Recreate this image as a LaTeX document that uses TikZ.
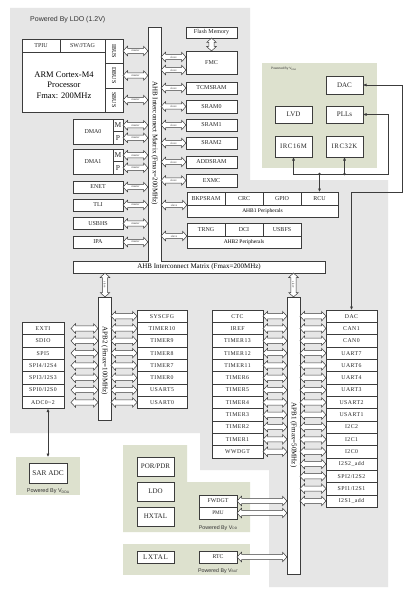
\documentclass[tikz,border=0pt]{standalone}
\usepackage{fontspec}
\setmainfont{Liberation Serif}
\newfontfamily\sansf{Liberation Sans}
\newfontfamily\lsf[LetterSpace=8]{Liberation Serif}
\usetikzlibrary{arrows.meta,calc}
\definecolor{bggray}{HTML}{E6E6E6}
\definecolor{bggreen}{HTML}{DDE1CE}
\definecolor{edge}{HTML}{3C3C3C}
\newcounter{arrn}
\newcommand{\fs}[1]{\fontsize{#1}{#1}\selectfont}
\newcommand{\vsub}[2]{\raisebox{-0.2ex}{\fontsize{#1}{#1}\selectfont #2}}
\tikzset{
 box/.style={draw=edge, fill=white, line width=0.6pt, inner sep=0pt, outer sep=0pt, font=\fs{6}, align=center, text=black!85},
 barr/.style={draw=edge, fill=white, line width=0.5pt, line join=miter},
 alab/.style={inner sep=0pt, font=\fs{3}, text=edge},
 conn/.style={draw=edge, line width=0.7pt, >={Latex[length=3.5pt,width=3.2pt]}},
 power/.style={inner sep=0pt, text=black!80},
 busbar/.style={draw=edge, fill=white, line width=0.6pt},
 apblab/.style={font=\lsf\fs{5.8}},
}
% [opts]{name}{x1}{y1}{x2}{y2}{text}
\newcommand{\rbox}[7][]{%
 \pgfmathsetmacro\bw{#5-#3}\pgfmathsetmacro\bh{#6-#4}%
 \node[box,minimum width=\bw pt,minimum height=\bh pt,anchor=north west,#1] (#2) at (#3,#4) {#7};}
% horizontal double block arrow {x1}{x2}{y}{label}
\newcommand{\harr}[4]{%
 \stepcounter{arrn}%
 \pgfmathsetmacro\hl{#2-#1-9}%
 \draw[barr] (#1,#3) -- ++(4.5,-4.8) -- ++(0,2.2) -- ++(\hl,0) -- ++(0,-2.2) -- (#2,#3) -- ++(-4.5,4.8) -- ++(0,-2.2) -- ++(-\hl,0) -- ++(0,2.2) -- cycle;
 \node[alab] (lab\thearrn) at ({(#1+#2)/2},#3) {#4};}
% vertical double block arrow {x}{y1}{y2}{label}
\newcommand{\varr}[4]{%
 \stepcounter{arrn}%
 \pgfmathsetmacro\vl{#3-#2-9}%
 \draw[barr] (#1,#2) -- ++(4.8,4.5) -- ++(-2.2,0) -- ++(0,\vl) -- ++(2.2,0) -- (#1,#3) -- ++(-4.8,-4.5) -- ++(2.2,0) -- ++(0,-\vl) -- ++(-2.2,0) -- cycle;
 \node[alab,rotate=-90] (lab\thearrn) at (#1,{(#2+#3)/2}) {#4};}

\begin{document}
\begin{tikzpicture}[x=1pt,y=-1pt]
\fill[white] (0,0) rectangle (415,599);
\useasboundingbox (0,0) rectangle (415,599);
% ---------- backgrounds
\fill[bggray] (10,8) -- (250,8) -- (250,180) -- (388,180) -- (388,587) -- (269,587) -- (269,470) -- (200,470) -- (200,433) -- (10,433) -- cycle;
\fill[bggreen] (262,63) rectangle (377,168);
\fill[bggreen] (123,445) -- (187,445) -- (187,482) -- (250,482) -- (250,532) -- (123,532) -- cycle;
\fill[bggreen] (123,544) rectangle (250,575);
\rbox[fill=bggreen,draw=none]{sarg}{16}{457}{80}{495}{}

\node[power,font=\sansf\fs{7},anchor=west] (pwrldo) at (30,20) {Powered By LDO (1.2V)};
\node[power,font=\sansf\fs{3.2},anchor=west] (pwrtr) at (271,69) {Powered By V\vsub{2.2}{DDA}};
\node[power,font=\sansf\fs{5.5}] (pwrsar) at (48,491) {Powered By V\vsub{3.5}{DDA}};
\node[power,font=\sansf\fs{5.3}] (pwrvdd) at (218,528) {Powered By V\vsub{3.3}{DD}};
\node[power,font=\sansf\fs{5.3}] (pwrvbat) at (218,571) {Powered By V\vsub{3.3}{BAT}};

% ---------- AHB interconnect bus
\draw[busbar] (148,27) -- (161,27) -- (161,261) -- (325,261) -- (325,273) -- (73,273) -- (73,261) -- (148,261) -- cycle;
\node[rotate=-90,font=\fs{7}] (ahbv) at (154.5,143) {AHB Interconnect Matrix (Fmax=200MHz)};
\node[font=\fs{7}] (ahbh) at (199,267) {AHB Interconnect Matrix (Fmax=200MHz)};

% ---------- CPU
\rbox{tpiu}{22}{39}{60}{52}{TPIU}
\rbox{swj}{60}{39}{105}{52}{SW/JTAG}
\rbox{core}{22}{52}{105}{112}{}
\node[font=\fontsize{8.5}{10.5}\selectfont,align=center] (coretxt) at (64,85) {ARM Cortex-M4\\Processor\\Fmax: 200MHz};
\rbox{ibus}{105}{39}{123}{63}{}
\rbox{dbus}{105}{63}{123}{88}{}
\rbox{sbus}{105}{88}{123}{112}{}
\node[rotate=-90,font=\fs{6}] (ibustxt) at (ibus.center) {IBUS};
\node[rotate=-90,font=\fs{6}] (dbustxt) at (dbus.center) {DBUS};
\node[rotate=-90,font=\fs{6}] (sbustxt) at (sbus.center) {SBUS};
\harr{123}{148}{51}{master}
\harr{123}{148}{75.5}{master}
\harr{123}{148}{100}{master}

% ---------- other masters
\rbox{dmaz}{73}{119}{113}{144}{DMA0}
\rbox[font=\fs{7.5}]{dmazm}{113}{119}{123}{131.5}{M}
\rbox[font=\fs{7.5}]{dmazp}{113}{131.5}{123}{144}{P}
\rbox{dmao}{73}{149}{113}{174}{DMA1}
\rbox[font=\fs{7.5}]{dmaom}{113}{149}{123}{161.5}{M}
\rbox[font=\fs{7.5}]{dmaop}{113}{161.5}{123}{174}{P}
\rbox{enet}{73}{181}{123}{193}{ENET}
\rbox{tli}{73}{199}{123}{211}{TLI}
\rbox{usbhs}{73}{217.5}{123}{229.5}{USBHS}
\rbox{ipa}{73}{236}{123}{248}{IPA}
\harr{123}{148}{125.25}{master}
\harr{123}{148}{137.75}{master}
\harr{123}{148}{155.25}{master}
\harr{123}{148}{167.75}{master}
\harr{123}{148}{187}{master}
\harr{123}{148}{205}{master}
\harr{123}{148}{223.5}{master}
\harr{123}{148}{242}{master}

% ---------- slaves
\rbox{flash}{186}{27}{237}{38}{Flash Memory}
\rbox{fmc}{186}{51}{237}{74}{FMC}
\varr{211.5}{38}{51}{}
\rbox{tcm}{186}{82}{237}{94}{TCMSRAM}
\rbox{sramz}{186}{100}{237}{113}{SRAM0}
\rbox{sramo}{186}{119}{237}{131}{SRAM1}
\rbox{sramt}{186}{137}{237}{149}{SRAM2}
\rbox{addsram}{186}{156}{237}{168}{ADDSRAM}
\rbox{exmc}{186}{174}{237}{187}{EXMC}
\harr{161}{186}{57}{slave}
\harr{161}{186}{70}{slave}
\harr{161}{186}{88}{slave}
\harr{161}{186}{106.5}{slave}
\harr{161}{186}{125}{slave}
\harr{161}{186}{143}{slave}
\harr{161}{186}{162}{slave}
\harr{161}{186}{180.5}{slave}

\rbox{ahbone}{187}{192}{338}{217}{}
\rbox{bkpsram}{187}{192}{225}{205}{BKPSRAM}
\rbox{crc}{225}{192}{263}{205}{CRC}
\rbox{gpio}{263}{192}{301}{205}{GPIO}
\rbox{rcu}{301}{192}{338}{205}{RCU}
\node[font=\fs{5.5}] (ahbonelab) at (262.5,211.2) {AHB1 Peripherals};
\harr{161}{187}{205}{slave}

\rbox{ahbtwo}{187}{223}{301}{248}{}
\rbox{trng}{187}{223}{225}{236}{TRNG}
\rbox{dci}{225}{223}{263}{236}{DCI}
\rbox{usbfs}{263}{223}{301}{236}{USBFS}
\node[font=\fs{5.5}] (ahbtwolab) at (244,242.2) {AHB2 Peripherals};
\harr{161}{187}{236}{slave}

% ---------- power domain VDDA (top right)
\rbox[font=\fs{7}]{dacg}{326}{76}{363}{94}{DAC}
\rbox[font=\fs{7}]{lvd}{275}{106}{312}{123}{LVD}
\rbox[font=\fs{7}]{plls}{326}{106}{363}{123}{PLLs}
\rbox[font=\lsf\fs{6.8}]{irc16}{275}{136}{312}{157}{IRC16M}
\rbox[font=\lsf\fs{6.8}]{irc32}{326}{136}{363}{157}{IRC32K}

% ---------- APB2
\varr{105}{273}{297}{slave}
\rbox{apbtwo}{98}{297}{111}{420}{}
\node[rotate=-90,font=\fs{7}] (apbtwotxt) at (104.5,361) {APB2 (Fmax=100MHz)};
\foreach \t [count=\i from 0] in {SYSCFG,TIMER10,TIMER9,TIMER8,TIMER7,TIMER0,USART5,USART0}{
  \pgfmathsetmacro\ya{310+12.32*\i}\pgfmathsetmacro\yb{\ya+12.32}
  \rbox[apblab]{apbtwoR\i}{137}{\ya}{187}{\yb}{\t}
  \harr{111}{137}{\ya+6.16}{}
}
\foreach \t [count=\i from 0] in {EXTI,SDIO,SPI5,SPI4/I2S4,SPI3/I2S3,SPI0/I2S0,{ADC0\textasciitilde{}2}}{
  \pgfmathsetmacro\ya{310+12.32*(\i+1)}\pgfmathsetmacro\yb{\ya+12.32}
  \rbox[apblab]{apbtwoL\i}{22}{\ya}{64}{\yb}{\t}
  \harr{71}{98}{\ya+6.16}{}
}
\rbox[font=\fs{7.3}]{sar}{29}{463}{67}{483}{SAR ADC}
\draw[conn,<->] (apbtwoL6.south -| sarg.north) -- (sarg.north);

% ---------- APB1
\varr{293.5}{273}{297}{slave}
\rbox{apbone}{287}{297}{300}{574}{}
\node[rotate=-90,font=\fs{7}] (apbonetxt) at (293.5,435) {APB1 (Fmax=50MHz)};
\foreach \t [count=\i from 0] in {CTC,IREF,TIMER13,TIMER12,TIMER11,TIMER6,TIMER5,TIMER4,TIMER3,TIMER2,TIMER1,WWDGT}{
  \pgfmathsetmacro\ya{310+12.32*\i}\pgfmathsetmacro\yb{\ya+12.32}
  \rbox[apblab]{apboneL\i}{212}{\ya}{263}{\yb}{\t}
  \harr{263}{287}{\ya+6.16}{}
}
\foreach \t [count=\i from 0] in {DAC,CAN1,CAN0,UART7,UART6,UART4,UART3,USART2,USART1,I2C2,I2C1,I2C0,I2S2\_add,SPI2/I2S2,SPI1/I2S1,I2S1\_add}{
  \pgfmathsetmacro\ya{310+12.32*\i}\pgfmathsetmacro\yb{\ya+12.32}
  \rbox[apblab]{apboneR\i}{326}{\ya}{377}{\yb}{\t}
  \harr{300}{326}{\ya+6.16}{}
}

% ---------- VDD / VBAT domains
\rbox[font=\fs{7}]{porpdr}{137}{457}{174}{476}{POR/PDR}
\rbox[font=\fs{7}]{ldo}{137}{482}{174}{501}{LDO}
\rbox[font=\fs{7}]{hxtal}{137}{507}{174}{526}{HXTAL}
\rbox[font=\fs{5.8}]{fwdgt}{199}{495}{237}{507}{FWDGT}
\rbox[font=\fs{5.3}]{pmu}{199}{507}{237}{519}{PMU}
\rbox[font=\lsf\fs{7}]{lxtal}{137}{551}{174}{563}{LXTAL}
\rbox[font=\fs{5.8}]{rtc}{199}{551}{237}{563}{RTC}
\harr{237}{287}{501}{}
\harr{237}{287}{513}{}
\harr{237}{287}{557}{}

% ---------- thin connectors
\coordinate (dacturn) at (402,192);
\draw[conn,<->] (dacg.east) -| (dacturn) -| (apboneR0.north);
\coordinate (pllbus) at (388,174);
\draw[conn,<->] (plls.east) -| (pllbus) -| (irc16.south);
\draw[conn,->] (pllbus -| irc32.south) -- (irc32.south);
\draw[conn,->] (pllbus -| rcu.north) -- (rcu.north);
\fill[edge] (pllbus -| irc32.south) circle (1.4);
\fill[edge] (pllbus -| rcu.north) circle (1.4);
\end{tikzpicture}
\end{document}
